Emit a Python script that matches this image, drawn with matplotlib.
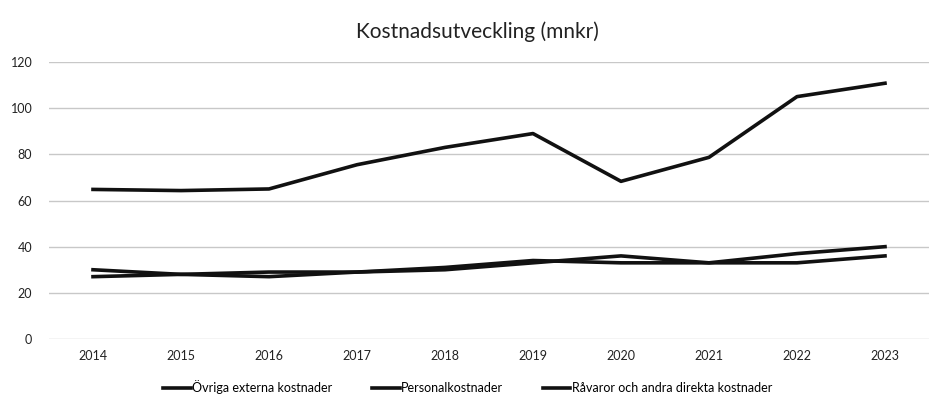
import matplotlib
matplotlib.use("Agg")
import matplotlib.pyplot as plt

years = ["2014", "2015", "2016", "2017", "2018", "2019", "2020", "2021", "2022", "2023"]
ovriga = [64.8, 64.3, 65.0, 75.5, 83.0, 89.0, 68.3, 78.7, 105.0, 110.8]
personal = [30.0, 28.0, 29.0, 29.0, 31.0, 34.0, 33.0, 33.0, 37.0, 40.0]
ravaror = [27.0, 28.0, 27.0, 29.0, 30.0, 33.0, 36.0, 33.0, 33.0, 36.0]
labels = ["Övriga externa kostnader", "Personalkostnader", "Råvaror och andra direkta kostnader"]
yticks = [0, 20, 40, 60, 80, 100, 120]

plt.rcParams['font.family'] = ['Lato', 'DejaVu Sans']

fig = plt.figure(figsize=(9.35, 4.11), dpi=100)
ax = fig.add_axes([49/935, 1 - 339/411, (929-49)/935, (339-62)/411])
x = range(len(years))
for vals, lab in zip([ovriga, personal, ravaror], labels):
    ax.plot(x, vals, color="#111111", lw=2.6, label=lab, solid_joinstyle="round")

ax.set_xlim(-0.5, len(years) - 0.5)
ax.set_ylim(0, 120)
ax.set_yticks(yticks)
ax.set_xticks(list(x))
ax.set_xticklabels(years)
ax.grid(axis="y", color="#c8c8c8", lw=1)
ax.set_axisbelow(True)
for s in ax.spines.values():
    s.set_visible(False)
ax.tick_params(length=0, labelsize=9, colors="#222222")
ax.tick_params(axis="y", pad=12)
ax.tick_params(axis="x", pad=8)

fig.text(477/935, 1 - 32/411, "Kostnadsutveckling (mnkr)", ha="center", va="center", fontsize=15, color="#222222")
fig.legend(loc="center", bbox_to_anchor=(0.5, 1 - 387/411), ncol=3, frameon=False,
           fontsize=9, handlelength=2.2, handletextpad=0.1, columnspacing=3.2)

fig.savefig("out.png", dpi=100, facecolor="white")
